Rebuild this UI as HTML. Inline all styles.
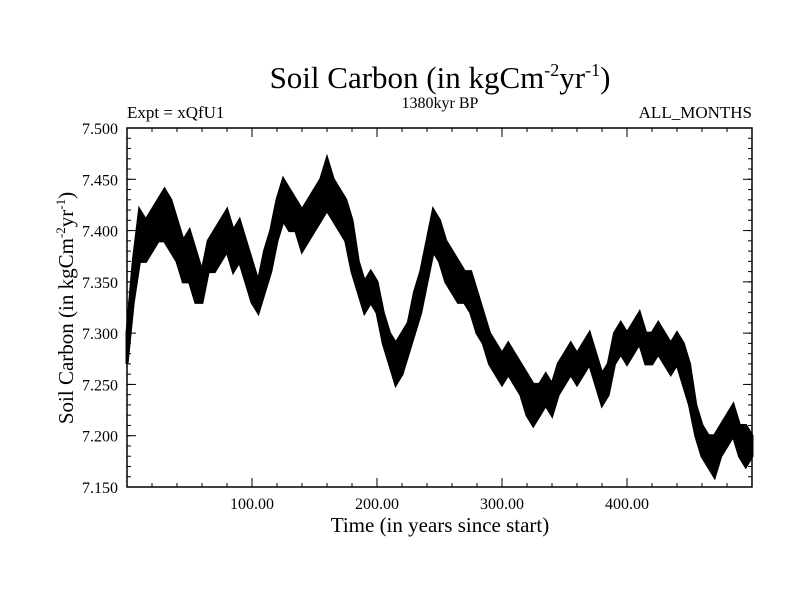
<!DOCTYPE html>
<html><head><meta charset="utf-8"><style>
body{margin:0;background:#fff}
svg text{font-family:"Liberation Serif",serif;fill:#000}
</style></head><body>
<svg width="800" height="600" viewBox="0 0 800 600">
<g id="plot"></g>
<text x="440" y="88" font-size="31" text-anchor="middle">Soil Carbon (in kgCm<tspan font-size="18" dy="-12">-2</tspan><tspan dy="12">yr</tspan><tspan font-size="18" dy="-12">-1</tspan><tspan dy="12">)</tspan></text>
<text x="127" y="118" font-size="17">Expt = xQfU1</text>
<text x="440" y="108" font-size="16" text-anchor="middle">1380kyr BP</text>
<text x="752" y="118" font-size="17" text-anchor="end">ALL_MONTHS</text>
<text x="440" y="532" font-size="21" text-anchor="middle">Time (in years since start)</text>
<text transform="translate(73,308) rotate(-90)" font-size="21" text-anchor="middle">Soil Carbon (in kgCm<tspan font-size="13" dy="-8">-2</tspan><tspan dy="8">yr</tspan><tspan font-size="13" dy="-8">-1</tspan><tspan dy="8">)</tspan></text>
</svg>
<script>
const years=[];for(let i=0;i<=100;i++)years.push(i*5);
const lower=[7.27,7.33,7.37,7.37,7.38,7.39,7.39,7.38,7.37,7.35,7.35,7.33,7.33,7.36,7.36,7.37,7.38,7.36,7.37,7.35,7.33,7.32,7.34,7.36,7.39,7.41,7.40,7.40,7.38,7.39,7.40,7.41,7.42,7.41,7.40,7.39,7.36,7.34,7.32,7.33,7.32,7.29,7.27,7.25,7.26,7.28,7.30,7.32,7.35,7.38,7.37,7.35,7.34,7.33,7.33,7.32,7.30,7.29,7.27,7.26,7.25,7.26,7.25,7.24,7.22,7.21,7.22,7.23,7.22,7.24,7.25,7.26,7.25,7.26,7.27,7.25,7.23,7.24,7.27,7.28,7.27,7.28,7.29,7.27,7.27,7.28,7.27,7.26,7.27,7.25,7.23,7.20,7.18,7.17,7.16,7.18,7.19,7.20,7.18,7.17,7.18];
const upper=[7.30,7.37,7.42,7.41,7.42,7.43,7.44,7.43,7.41,7.39,7.40,7.38,7.36,7.39,7.40,7.41,7.42,7.40,7.41,7.39,7.37,7.35,7.38,7.40,7.43,7.45,7.44,7.43,7.42,7.43,7.44,7.45,7.47,7.45,7.44,7.43,7.41,7.37,7.35,7.36,7.35,7.32,7.30,7.29,7.30,7.31,7.34,7.36,7.39,7.42,7.41,7.39,7.38,7.37,7.36,7.36,7.34,7.32,7.30,7.29,7.28,7.29,7.28,7.27,7.26,7.25,7.25,7.26,7.25,7.27,7.28,7.29,7.28,7.29,7.30,7.28,7.26,7.27,7.30,7.31,7.30,7.31,7.32,7.30,7.30,7.31,7.30,7.29,7.30,7.29,7.27,7.23,7.21,7.20,7.20,7.21,7.22,7.23,7.21,7.21,7.20];
const yTicks=[7.15,7.2,7.25,7.3,7.35,7.4,7.45,7.5];
const xTicks=[100,200,300,400];
const L=127,R=752,T=128,B=487;
const sx=v=>L+(v-0)/(500)*(R-L);
const sy=v=>B-(v-7.15)/(0.35)*(B-T);
const g=document.getElementById('plot');
const NS='http://www.w3.org/2000/svg';
function mk(t,a){const e=document.createElementNS(NS,t);for(const k in a)e.setAttribute(k,a[k]);g.appendChild(e);return e;}
let pts=years.map((y,i)=>sx(y)+','+sy(upper[i]));
for(let i=years.length-1;i>=0;i--)pts.push(sx(years[i])+','+sy(lower[i]));
const band=mk('polygon',{points:pts.join(' '),fill:'#000',stroke:'#000','stroke-width':3,'stroke-linejoin':'miter'});


const frame=mk('rect',{x:L,y:T,width:R-L,height:B-T,fill:'none',stroke:'#000','stroke-width':1.5});


for(let v=7.15;v<7.5001;v+=0.01){
  mk('line',{x1:L,x2:L+4,y1:sy(v),y2:sy(v),stroke:'#000'});
  mk('line',{x1:R,x2:R-4,y1:sy(v),y2:sy(v),stroke:'#000'});
}
for(let v=20;v<500;v+=20){
  mk('line',{x1:sx(v),x2:sx(v),y1:B,y2:B-4,stroke:'#000'});
  mk('line',{x1:sx(v),x2:sx(v),y1:T,y2:T+4,stroke:'#000'});
}
yTicks.forEach(v=>{
  mk('line',{x1:L,x2:L+9,y1:sy(v),y2:sy(v),stroke:'#000'});
  mk('line',{x1:R,x2:R-9,y1:sy(v),y2:sy(v),stroke:'#000'});
  const t=mk('text',{x:L-9,y:sy(v)+6,'font-size':16,'text-anchor':'end'});t.textContent=v.toFixed(3);
  
  
});
xTicks.forEach(v=>{
  mk('line',{x1:sx(v),x2:sx(v),y1:B,y2:B-9,stroke:'#000'});
  mk('line',{x1:sx(v),x2:sx(v),y1:T,y2:T+9,stroke:'#000'});
  const t=mk('text',{x:sx(v),y:B+22,'font-size':16,'text-anchor':'middle'});t.textContent=v.toFixed(2);
  
  
});
</script>
</body></html>
